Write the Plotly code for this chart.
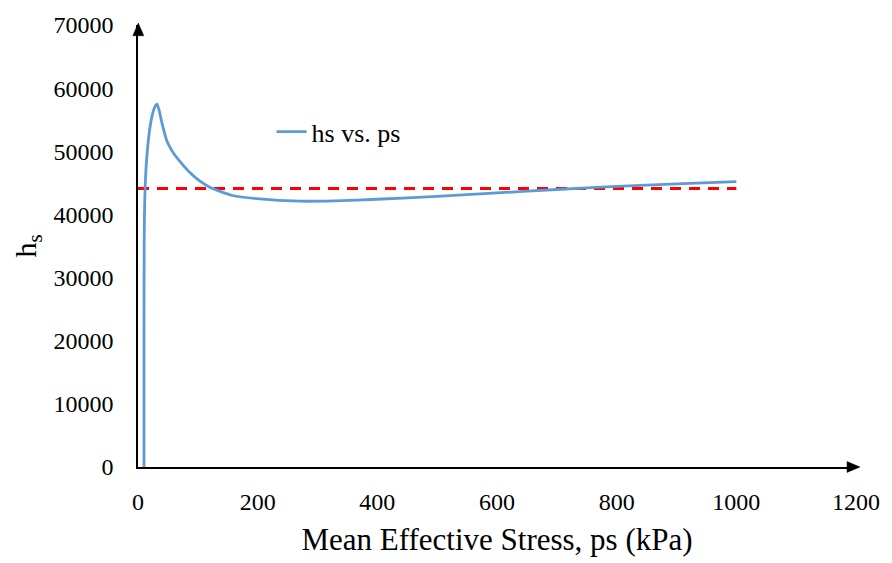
import plotly.graph_objects as go

ps = [10, 10, 10.3, 10.8, 11.8, 13.5, 16, 19.5, 24, 28, 32, 36, 40, 44, 48, 52, 60, 70, 85, 103, 120, 158, 203, 270, 330, 400, 500, 600, 700, 800, 900, 1000]
hs = [0, 20000, 35000, 40000, 44000, 47500, 50500, 53500, 55800, 57000, 57450, 56200, 54500, 53000, 51700, 50900, 49600, 48400, 46800, 45300, 44300, 43000, 42450, 42100, 42150, 42400, 42850, 43400, 43950, 44450, 44850, 45200]

ref_x = [0, 1000]
ref_y = [44100, 44100]

x_ticks = [0, 200, 400, 600, 800, 1000, 1200]
y_ticks = [0, 10000, 20000, 30000, 40000, 50000, 60000, 70000]

font = "Liberation Serif, Times New Roman, serif"

W, H = 892, 563
L, R, T, B = 138, 33, 20, 92
PW, PH = W - L - R, H - T - B


def px(x):
    return (x - L) / PW


def py(y):
    return (H - B - y) / PH


fig = go.Figure()
fig.add_trace(go.Scatter(x=ref_x, y=ref_y, mode="lines",
                         line=dict(color="#FF0000", width=3, dash="11px,8px"),
                         showlegend=False, hoverinfo="skip"))
fig.add_trace(go.Scatter(x=ps, y=hs, mode="lines", name="hs vs. ps",
                         line=dict(color="#5B9BD5", width=2.8, shape="spline", smoothing=0.5)))

fig.update_layout(
    width=W, height=H,
    margin=dict(l=L, r=R, t=T, b=B),
    paper_bgcolor="white", plot_bgcolor="white",
    font=dict(family=font, size=24, color="black"),
    legend=dict(x=0.186, y=py(129), xanchor="left", yanchor="middle",
                bgcolor="rgba(0,0,0,0)", font=dict(size=26)),
    xaxis=dict(range=[0, 1200], tickvals=x_ticks, tickformat="d", showgrid=False, zeroline=False,
               showline=True, linecolor="black", linewidth=1.5, ticks="",
               ticklabelstandoff=12,
               title=dict(text="Mean Effective Stress, ps (kPa)", font=dict(size=31), standoff=15)),
    yaxis=dict(range=[0, 70000], tickvals=y_ticks, tickformat="d", showgrid=False, zeroline=False,
               showline=True, linecolor="black", linewidth=1.5, ticks="",
               ticklabelstandoff=18,
               title=dict(text="h<sub>s</sub>", font=dict(size=30), standoff=8)),
)

# axis arrows
fig.add_shape(type="line", xref="paper", yref="paper", x0=1, y0=0, x1=px(852), y1=0,
              line=dict(color="black", width=1.5))
fig.add_shape(type="path", xref="paper", yref="paper",
              path=f"M {px(863)} {py(471)} L {px(850)} {py(465.5)} L {px(850)} {py(476.5)} Z",
              fillcolor="black", line=dict(color="black", width=0.5))
fig.add_shape(type="path", xref="paper", yref="paper",
              path=f"M {px(138.3)} {py(18)} L {px(132.8)} {py(31)} L {px(143.8)} {py(31)} Z",
              fillcolor="black", line=dict(color="black", width=0.5))

fig.write_html("out.html")
